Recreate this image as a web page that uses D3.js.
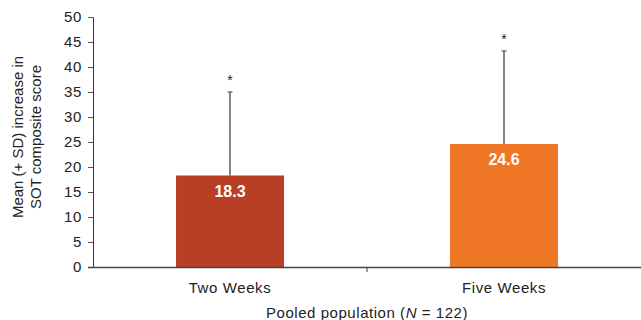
<!DOCTYPE html>
<html>
<head>
<meta charset="utf-8">
<script src="https://cdn.jsdelivr.net/npm/d3@7"></script>
<style>
  body { margin: 0; background: #fff; }
  text { font-family: "Liberation Sans", Arial, sans-serif; }
</style>
</head>
<body>
<div id="chart"></div>
<script>
var categories = ['Two Weeks', 'Five Weeks'];
var means = [18.3, 24.6];
var sds = [16.7, 18.6];
var yTicks = [0, 5, 10, 15, 20, 25, 30, 35, 40, 45, 50];
var barColors = ['#b83e26', '#ee7625'];

var width = 641, height = 320;
var plotLeft = 93, plotTop = 17, plotBottom = 267;

var svg = d3.select('#chart').append('svg')
  .attr('width', width)
  .attr('height', height);

var x = d3.scaleBand()
  .domain(categories)
  .range([plotLeft, width])
  .paddingInner(0.606)
  .paddingOuter(0.303);

var y = d3.scaleLinear()
  .domain([0, 50])
  .range([plotBottom, plotTop]);

// bars
svg.selectAll('rect.bar')
  .data(means)
  .enter()
  .append('rect')
  .attr('class', 'bar')
  .attr('x', function(d, i) { return x(categories[i]); })
  .attr('y', function(d) { return y(d); })
  .attr('width', x.bandwidth())
  .attr('height', function(d) { return plotBottom - y(d); })
  .attr('fill', function(d, i) { return barColors[i]; });

// error bars (upper only)
var cx = function(i) { return x(categories[i]) + x.bandwidth() / 2; };

svg.selectAll('line.err')
  .data(means)
  .enter()
  .append('line')
  .attr('x1', function(d, i) { return cx(i); })
  .attr('x2', function(d, i) { return cx(i); })
  .attr('y1', function(d) { return y(d); })
  .attr('y2', function(d, i) { return y(d + sds[i]); })
  .attr('stroke', '#333')
  .attr('stroke-width', 1.2);

svg.selectAll('line.cap')
  .data(means)
  .enter()
  .append('line')
  .attr('x1', function(d, i) { return cx(i) - 2.5; })
  .attr('x2', function(d, i) { return cx(i) + 2.5; })
  .attr('y1', function(d, i) { return y(d + sds[i]); })
  .attr('y2', function(d, i) { return y(d + sds[i]); })
  .attr('stroke', '#555')
  .attr('stroke-width', 1.2);

// significance stars
svg.selectAll('text.star')
  .data(means)
  .enter()
  .append('text')
  .attr('x', function(d, i) { return cx(i); })
  .attr('y', function(d, i) { return y(d + sds[i]) - 7; })
  .attr('text-anchor', 'middle')
  .attr('font-size', 14)
  .attr('fill', '#222')
  .text('*');

// value labels
svg.selectAll('text.val')
  .data(means)
  .enter()
  .append('text')
  .attr('x', function(d, i) { return cx(i); })
  .attr('y', function(d) { return y(d) + 21; })
  .attr('text-anchor', 'middle')
  .attr('font-size', 16)
  .attr('font-weight', 'bold')
  .attr('fill', '#fff')
  .text(function(d) { return d.toFixed(1); });

// y axis
var yAxis = svg.append('g')
  .attr('transform', 'translate(' + plotLeft + ',0)')
  .call(d3.axisLeft(y).tickValues(yTicks).tickSize(5).tickPadding(6));
yAxis.select('.domain').attr('stroke', '#333');
yAxis.selectAll('.tick line').attr('stroke', '#555');
yAxis.selectAll('text')
  .attr('font-size', 15)
  .attr('letter-spacing', 0.6)
  .attr('fill', '#222')
  .style('font-family', '"Liberation Sans", Arial, sans-serif');

// x axis
svg.append('line')
  .attr('x1', plotLeft - 5).attr('x2', width)
  .attr('y1', plotBottom + 0.5).attr('y2', plotBottom + 0.5)
  .attr('stroke', '#444')
  .attr('stroke-width', 1.3);

svg.append('line')
  .attr('x1', (plotLeft + width) / 2).attr('x2', (plotLeft + width) / 2)
  .attr('y1', plotBottom).attr('y2', plotBottom + 5)
  .attr('stroke', '#444');

svg.selectAll('text.cat')
  .data(categories)
  .enter()
  .append('text')
  .attr('x', function(d, i) { return cx(i); })
  .attr('y', 293)
  .attr('text-anchor', 'middle')
  .attr('font-size', 15)
  .attr('letter-spacing', 0.6)
  .attr('fill', '#222')
  .text(function(d) { return d; });

// x title
var xt = svg.append('text')
  .attr('x', (plotLeft + width) / 2)
  .attr('y', 318)
  .attr('text-anchor', 'middle')
  .attr('font-size', 15)
  .attr('letter-spacing', 0.55)
  .attr('fill', '#222');
xt.append('tspan').text('Pooled population (');
xt.append('tspan').attr('font-style', 'italic').text('N');
xt.append('tspan').text(' = 122)');

// y title
var yt = svg.append('text')
  .attr('transform', 'translate(23,137) rotate(-90)')
  .attr('text-anchor', 'middle')
  .attr('font-size', 15)
  .attr('fill', '#222');
yt.append('tspan').attr('x', 0).attr('dy', 0).text('Mean (+ SD) increase in');
yt.append('tspan').attr('x', 0).attr('dy', 18).text('SOT composite score');
</script>
</body>
</html>
